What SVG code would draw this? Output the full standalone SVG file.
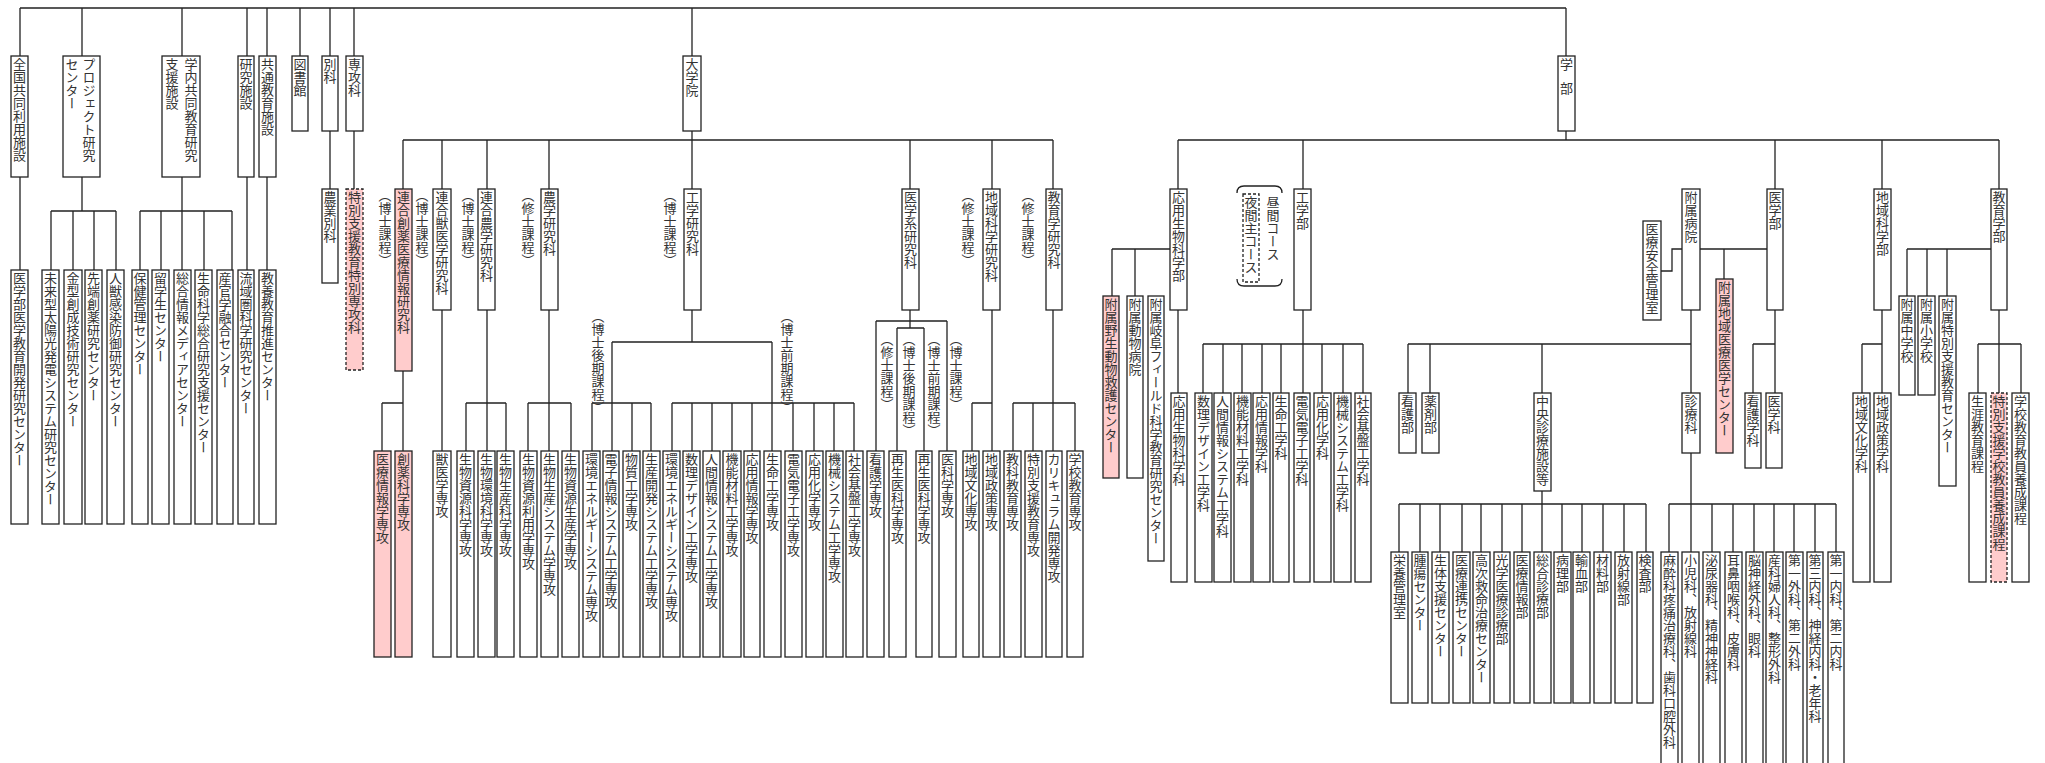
<svg xmlns="http://www.w3.org/2000/svg" width="2045" height="763" viewBox="0 0 2045 763">
<style>
.b{fill:#fff;stroke:#222;stroke-width:1.3}
.p{fill:#ffcccc}
.d{stroke-dasharray:3 2}
.t{font-family:"Noto Sans CJK JP","Noto Sans CJK SC",sans-serif;font-size:13px;fill:#333;writing-mode:vertical-rl;dominant-baseline:central}
.c{fill:none;stroke:#222;stroke-width:1.3}
</style>
<rect width="2045" height="763" fill="#fff"/>
<g id="connectors" class="c">
<path d="M20,8H1566M20,8V56M82,8V56M182,8V56M247,8V56M267,8V56M300,8V56M330,8V56M354,8V56M692,8V56M1566,8V56"/>
<path d="M20,177V270M82,177V211M51,211H116M51,211V270M73,211V270M94,211V270M116,211V270"/>
<path d="M182,177V211M140,211H232M140,211V270M161,211V270M182,211V270M204,211V270M232,211V270"/>
<path d="M247,177V270M267,177V270M330,131V189M354,131V189"/>
<path d="M692,131V189M403,140H1053M403,140V189M442,140V189M487,140V189M549,140V189M910,140V189M992,140V189M1053,140V189"/>
<path d="M403,371V451M382,403H403M382,403V451"/>
<path d="M442,310V451"/>
<path d="M487,310V451M466,403H506M466,403V451M506,403V451"/>
<path d="M549,310V451M528,403H571M528,403V451M571,403V451"/>
<path d="M692,310V342M612,342H772M612,342V451M772,342V451M592,403H651M592,403V451M632,403V451M651,403V451"/>
<path d="M672,403H854M672,403V451M692,403V451M712,403V451M732,403V451M752,403V451M793,403V451M814,403V451M834,403V451M854,403V451"/>
<path d="M910,310V328M876,321H947M897,328H924M876,321V451M897,328V451M924,328V451M947,321V451"/>
<path d="M992,310V451M972,403H992M972,403V451"/>
<path d="M1053,310V451M1013,403H1075M1013,403V451M1033,403V451M1075,403V451"/>
<path d="M1566,131V140M1178,140H1999M1178,140V189M1303,140V189M1775,140V189M1882,140V189M1999,140V189"/>
<path d="M1178,310V393M1112,249H1170M1112,249V296M1135,249V296"/>
<path d="M1303,310V344M1203,344H1363M1203,344V393M1223,344V393M1242,344V393M1262,344V393M1281,344V393M1303,344V393M1322,344V393M1343,344V393M1363,344V393"/>
<path d="M1682,249H1672V271H1661M1700,249H1767M1724,249V279"/>
<path d="M1691,310V344M1408,344H1691M1408,344V393M1430,344V393M1542,344V393M1691,344V393"/>
<path d="M1542,491V504M1399,504H1646M1399,504V552M1420,504V552M1440,504V552M1462,504V552M1481,504V552M1502,504V552M1522,504V552M1542,504V552M1562,504V552M1582,504V552M1603,504V552M1624,504V552M1646,504V552"/>
<path d="M1691,453V504M1669,504H1836M1669,504V552M1691,504V552M1712,504V552M1733,504V552M1754,504V552M1774,504V552M1794,504V552M1815,504V552M1836,504V552"/>
<path d="M1775,310V344M1753,344H1775M1753,344V393M1775,344V393"/>
<path d="M1882,310V344M1862,344H1882M1862,344V393M1882,344V393"/>
<path d="M1907,249H1991M1907,249V296M1927,249V296M1947,249V296"/>
<path d="M1999,310V344M1978,344H2021M1978,344V393M1999,344V393M2021,344V393"/>
</g>
<!-- top level -->
<g id="n-zenkoku"><rect class="b" x="11" y="56" width="17" height="121"/><text class="t" x="19.5" y="58">全国共同利用施設</text></g>
<g id="n-project"><rect class="b" x="63" y="56" width="37" height="121"/><text class="t" x="89" y="58">プロジェクト研究</text><text class="t" x="72" y="58">センター</text></g>
<g id="n-gakunai"><rect class="b" x="162" y="56" width="38" height="121"/><text class="t" x="191" y="58">学内共同教育研究</text><text class="t" x="172" y="58">支援施設</text></g>
<g id="n-kenkyushisetsu"><rect class="b" x="238" y="56" width="16" height="121"/><text class="t" x="246" y="58">研究施設</text></g>
<g id="n-kyotsu"><rect class="b" x="259" y="56" width="17" height="121"/><text class="t" x="267.5" y="58">共通教育施設</text></g>
<g id="n-tosho"><rect class="b" x="292" y="56" width="16" height="75"/><text class="t" x="300" y="58">図書館</text></g>
<g id="n-betsuka"><rect class="b" x="322" y="56" width="16" height="75"/><text class="t" x="330" y="58">別科</text></g>
<g id="n-senkoka"><rect class="b" x="346" y="56" width="17" height="75"/><text class="t" x="354.5" y="58">専攻科</text></g>
<g id="n-daigakuin"><rect class="b" x="683" y="56" width="18" height="75"/><text class="t" x="692" y="58">大学院</text></g>
<g id="n-gakubu"><rect class="b" x="1558" y="56" width="17" height="75"/><text class="t" x="1566.5" y="58">学</text><text class="t" x="1566.5" y="82">部</text></g>
<!-- second row under top level -->
<g id="n-igakukyoiku"><rect class="b" x="11" y="270" width="17" height="254"/><text class="t" x="19.5" y="272">医学部医学教育開発研究センター</text></g>
<g id="n-mirai"><rect class="b" x="42" y="270" width="17" height="254"/><text class="t" x="50.5" y="272">未来型太陽光発電システム研究センター</text></g>
<g id="n-kanagata"><rect class="b" x="64" y="270" width="18" height="254"/><text class="t" x="73" y="272">金型創成技術研究センター</text></g>
<g id="n-sentan"><rect class="b" x="85" y="270" width="17" height="254"/><text class="t" x="93.5" y="272">先端創薬研究センター</text></g>
<g id="n-jinju"><rect class="b" x="107" y="270" width="17" height="254"/><text class="t" x="115.5" y="272">人獣感染防御研究センター</text></g>
<g id="n-hoken"><rect class="b" x="132" y="270" width="16" height="254"/><text class="t" x="140" y="272">保健管理センター</text></g>
<g id="n-ryugaku"><rect class="b" x="152" y="270" width="17" height="254"/><text class="t" x="160.5" y="272">留学生センター</text></g>
<g id="n-sogojoho"><rect class="b" x="174" y="270" width="17" height="254"/><text class="t" x="182.5" y="272">総合情報メディアセンター</text></g>
<g id="n-seimei"><rect class="b" x="195" y="270" width="17" height="254"/><text class="t" x="203.5" y="272">生命科学総合研究支援センター</text></g>
<g id="n-sankan"><rect class="b" x="217" y="270" width="16" height="254"/><text class="t" x="225" y="272">産官学融合センター</text></g>
<g id="n-ryuiki"><rect class="b" x="238" y="270" width="16" height="254"/><text class="t" x="246" y="272">流域圏科学研究センター</text></g>
<g id="n-kyoyo"><rect class="b" x="259" y="270" width="17" height="254"/><text class="t" x="267.5" y="272">教養教育推進センター</text></g>
<g id="n-nogyobetsuka"><rect class="b" x="322" y="189" width="16" height="94"/><text class="t" x="330" y="191">農業別科</text></g>
<g id="n-tokubetsusenkoka"><rect class="b p d" x="346" y="189" width="17" height="181"/><text class="t" x="354.5" y="191">特別支援教育特別専攻科</text></g>
<!-- graduate schools -->
<g id="n-rengosoyaku"><rect class="b p" x="395" y="189" width="17" height="182"/><text class="t" x="403.5" y="191">連合創薬医療情報研究科</text></g>
<g id="n-rengojui"><rect class="b" x="433" y="189" width="18" height="121"/><text class="t" x="442" y="191">連合獣医学研究科</text></g>
<g id="n-rengono"><rect class="b" x="478" y="189" width="17" height="121"/><text class="t" x="486.5" y="191">連合農学研究科</text></g>
<g id="n-nogaku"><rect class="b" x="541" y="189" width="17" height="121"/><text class="t" x="549.5" y="191">農学研究科</text></g>
<g id="n-kogaku"><rect class="b" x="684" y="189" width="17" height="121"/><text class="t" x="692.5" y="191">工学研究科</text></g>
<g id="n-igakukei"><rect class="b" x="902" y="189" width="17" height="121"/><text class="t" x="910.5" y="191">医学系研究科</text></g>
<g id="n-chiikikagaku"><rect class="b" x="983" y="189" width="17" height="121"/><text class="t" x="991.5" y="191">地域科学研究科</text></g>
<g id="n-kyoikugaku"><rect class="b" x="1046" y="189" width="16" height="121"/><text class="t" x="1054" y="191">教育学研究科</text></g>
<g id="labels">
<text class="t" x="385" y="189">（博士課程）</text>
<text class="t" x="422" y="189">（博士課程）</text>
<text class="t" x="468" y="189">（博士課程）</text>
<text class="t" x="528" y="189">（修士課程）</text>
<text class="t" x="670" y="189">（博士課程）</text>
<text class="t" x="968" y="189">（修士課程）</text>
<text class="t" x="1028" y="189">（修士課程）</text>
<text class="t" x="598" y="310">（博士後期課程）</text>
<text class="t" x="787" y="310">（博士前期課程）</text>
<text class="t" x="887" y="333">（修士課程）</text>
<text class="t" x="909" y="333">（博士後期課程）</text>
<text class="t" x="934" y="333">（博士前期課程）</text>
<text class="t" x="956" y="333">（博士課程）</text>
</g>
<!-- majors -->
<g id="m01"><rect class="b p" x="374" y="451" width="17" height="206"/><text class="t" x="382.5" y="453">医療情報学専攻</text></g>
<g id="m02"><rect class="b p" x="395" y="451" width="17" height="206"/><text class="t" x="403.5" y="453">創薬科学専攻</text></g>
<g id="m03"><rect class="b" x="433" y="451" width="18" height="206"/><text class="t" x="442" y="453">獣医学専攻</text></g>
<g id="m04"><rect class="b" x="457" y="451" width="17" height="206"/><text class="t" x="465.5" y="453">生物資源科学専攻</text></g>
<g id="m05"><rect class="b" x="478" y="451" width="17" height="206"/><text class="t" x="486.5" y="453">生物環境科学専攻</text></g>
<g id="m06"><rect class="b" x="497" y="451" width="17" height="206"/><text class="t" x="505.5" y="453">生物生産科学専攻</text></g>
<g id="m07"><rect class="b" x="520" y="451" width="17" height="206"/><text class="t" x="528.5" y="453">生物資源利用学専攻</text></g>
<g id="m08"><rect class="b" x="541" y="451" width="17" height="206"/><text class="t" x="549.5" y="453">生物生産システム学専攻</text></g>
<g id="m09"><rect class="b" x="562" y="451" width="17" height="206"/><text class="t" x="570.5" y="453">生物資源生産学専攻</text></g>
<g id="m10"><rect class="b" x="583" y="451" width="17" height="206"/><text class="t" x="591.5" y="453">環境エネルギーシステム専攻</text></g>
<g id="m11"><rect class="b" x="603" y="451" width="16" height="206"/><text class="t" x="611" y="453">電子情報システム工学専攻</text></g>
<g id="m12"><rect class="b" x="623" y="451" width="17" height="206"/><text class="t" x="631.5" y="453">物質工学専攻</text></g>
<g id="m13"><rect class="b" x="643" y="451" width="17" height="206"/><text class="t" x="651.5" y="453">生産開発システム工学専攻</text></g>
<g id="m14"><rect class="b" x="663" y="451" width="17" height="206"/><text class="t" x="671.5" y="453">環境エネルギーシステム専攻</text></g>
<g id="m15"><rect class="b" x="683" y="451" width="17" height="206"/><text class="t" x="691.5" y="453">数理デザイン工学専攻</text></g>
<g id="m16"><rect class="b" x="703" y="451" width="17" height="206"/><text class="t" x="711.5" y="453">人間情報システム工学専攻</text></g>
<g id="m17"><rect class="b" x="723" y="451" width="18" height="206"/><text class="t" x="732" y="453">機能材料工学専攻</text></g>
<g id="m18"><rect class="b" x="744" y="451" width="16" height="206"/><text class="t" x="752" y="453">応用情報学専攻</text></g>
<g id="m19"><rect class="b" x="764" y="451" width="17" height="206"/><text class="t" x="772.5" y="453">生命工学専攻</text></g>
<g id="m20"><rect class="b" x="785" y="451" width="17" height="206"/><text class="t" x="793.5" y="453">電気電子工学専攻</text></g>
<g id="m21"><rect class="b" x="806" y="451" width="17" height="206"/><text class="t" x="814.5" y="453">応用化学専攻</text></g>
<g id="m22"><rect class="b" x="826" y="451" width="17" height="206"/><text class="t" x="834.5" y="453">機械システム工学専攻</text></g>
<g id="m23"><rect class="b" x="846" y="451" width="17" height="206"/><text class="t" x="854.5" y="453">社会基盤工学専攻</text></g>
<g id="m24"><rect class="b" x="867" y="451" width="17" height="206"/><text class="t" x="875.5" y="453">看護学専攻</text></g>
<g id="m25"><rect class="b" x="889" y="451" width="17" height="206"/><text class="t" x="897.5" y="453">再生医科学専攻</text></g>
<g id="m26"><rect class="b" x="916" y="451" width="16" height="206"/><text class="t" x="924" y="453">再生医科学専攻</text></g>
<g id="m27"><rect class="b" x="939" y="451" width="17" height="206"/><text class="t" x="947.5" y="453">医科学専攻</text></g>
<g id="m28"><rect class="b" x="963" y="451" width="16" height="206"/><text class="t" x="971" y="453">地域文化専攻</text></g>
<g id="m29"><rect class="b" x="983" y="451" width="17" height="206"/><text class="t" x="991.5" y="453">地域政策専攻</text></g>
<g id="m30"><rect class="b" x="1004" y="451" width="17" height="206"/><text class="t" x="1012.5" y="453">教科教育専攻</text></g>
<g id="m31"><rect class="b" x="1025" y="451" width="17" height="206"/><text class="t" x="1033.5" y="453">特別支援教育専攻</text></g>
<g id="m32"><rect class="b" x="1046" y="451" width="16" height="206"/><text class="t" x="1054" y="453">カリキュラム開発専攻</text></g>
<g id="m33"><rect class="b" x="1067" y="451" width="16" height="206"/><text class="t" x="1075" y="453">学校教育専攻</text></g>
<!-- faculties -->
<g id="f-oyoseibutsu"><rect class="b" x="1170" y="189" width="17" height="121"/><text class="t" x="1178.5" y="191">応用生物科学部</text></g>
<g id="course-note"><path class="c" d="M1237,193Q1237,186 1244,186H1275Q1282,186 1282,193M1237,279Q1237,286 1244,286H1275Q1282,286 1282,279"/><rect class="b d" x="1243" y="194" width="16" height="88" fill="none"/><text class="t" x="1251" y="196">夜間主コース</text><text class="t" x="1273" y="196">昼間コース</text></g>
<g id="f-kogaku"><rect class="b" x="1294" y="189" width="17" height="121"/><text class="t" x="1302.5" y="191">工学部</text></g>
<g id="f-iryoanzen"><rect class="b" x="1643" y="221" width="18" height="99"/><text class="t" x="1652" y="223">医療安全管理室</text></g>
<g id="f-byoin"><rect class="b" x="1682" y="189" width="18" height="121"/><text class="t" x="1691" y="191">附属病院</text></g>
<g id="f-igaku"><rect class="b" x="1767" y="189" width="16" height="121"/><text class="t" x="1775" y="191">医学部</text></g>
<g id="f-chiiki"><rect class="b" x="1874" y="189" width="17" height="121"/><text class="t" x="1882.5" y="191">地域科学部</text></g>
<g id="f-kyoiku"><rect class="b" x="1991" y="189" width="16" height="121"/><text class="t" x="1999" y="191">教育学部</text></g>
<!-- attached -->
<g id="a-yasei"><rect class="b p" x="1103" y="296" width="16" height="182"/><text class="t" x="1111" y="298">附属野生動物救護センター</text></g>
<g id="a-dobutsubyoin"><rect class="b" x="1127" y="296" width="16" height="182"/><text class="t" x="1135" y="298">附属動物病院</text></g>
<g id="a-gifufield"><rect class="b" x="1148" y="296" width="16" height="265"/><text class="t" x="1156" y="298">附属岐阜フィールド科学教育研究センター</text></g>
<g id="a-chiikiiryo"><rect class="b p" x="1716" y="279" width="17" height="174"/><text class="t" x="1724.5" y="281">附属地域医療医学センター</text></g>
<g id="a-chugaku"><rect class="b" x="1899" y="296" width="16" height="99"/><text class="t" x="1907" y="298">附属中学校</text></g>
<g id="a-shogaku"><rect class="b" x="1918" y="296" width="17" height="99"/><text class="t" x="1926.5" y="298">附属小学校</text></g>
<g id="a-tokubetsu"><rect class="b" x="1939" y="296" width="17" height="190"/><text class="t" x="1947.5" y="298">附属特別支援教育センター</text></g>
<!-- departments -->
<g id="d01"><rect class="b" x="1171" y="393" width="16" height="189"/><text class="t" x="1179" y="395">応用生物科学科</text></g>
<g id="d02"><rect class="b" x="1195" y="393" width="17" height="189"/><text class="t" x="1203.5" y="395">数理デザイン工学科</text></g>
<g id="d03"><rect class="b" x="1214" y="393" width="17" height="189"/><text class="t" x="1222.5" y="395">人間情報システム工学科</text></g>
<g id="d04"><rect class="b" x="1234" y="393" width="17" height="189"/><text class="t" x="1242.5" y="395">機能材料工学科</text></g>
<g id="d05"><rect class="b" x="1253" y="393" width="17" height="189"/><text class="t" x="1261.5" y="395">応用情報学科</text></g>
<g id="d06"><rect class="b" x="1273" y="393" width="16" height="189"/><text class="t" x="1281" y="395">生命工学科</text></g>
<g id="d07"><rect class="b" x="1294" y="393" width="16" height="189"/><text class="t" x="1302" y="395">電気電子工学科</text></g>
<g id="d08"><rect class="b" x="1314" y="393" width="17" height="189"/><text class="t" x="1322.5" y="395">応用化学科</text></g>
<g id="d09"><rect class="b" x="1334" y="393" width="17" height="189"/><text class="t" x="1342.5" y="395">機械システム工学科</text></g>
<g id="d10"><rect class="b" x="1355" y="393" width="16" height="189"/><text class="t" x="1363" y="395">社会基盤工学科</text></g>
<g id="d11"><rect class="b" x="1745" y="393" width="16" height="75"/><text class="t" x="1753" y="395">看護学科</text></g>
<g id="d12"><rect class="b" x="1766" y="393" width="16" height="75"/><text class="t" x="1774" y="395">医学科</text></g>
<g id="d13"><rect class="b" x="1853" y="393" width="17" height="189"/><text class="t" x="1861.5" y="395">地域文化学科</text></g>
<g id="d14"><rect class="b" x="1874" y="393" width="17" height="189"/><text class="t" x="1882.5" y="395">地域政策学科</text></g>
<g id="d15"><rect class="b" x="1969" y="393" width="17" height="189"/><text class="t" x="1977.5" y="395">生涯教育課程</text></g>
<g id="d16"><rect class="b p d" x="1991" y="393" width="16" height="189"/><text class="t" x="1999" y="395">特別支援学校教員養成課程</text></g>
<g id="d17"><rect class="b" x="2012" y="393" width="17" height="189"/><text class="t" x="2020.5" y="395">学校教育教員養成課程</text></g>
<!-- hospital -->
<g id="h-kango"><rect class="b" x="1399" y="393" width="17" height="60"/><text class="t" x="1407.5" y="395">看護部</text></g>
<g id="h-yakuzai"><rect class="b" x="1422" y="393" width="17" height="60"/><text class="t" x="1430.5" y="395">薬剤部</text></g>
<g id="h-chuo"><rect class="b" x="1534" y="393" width="17" height="98"/><text class="t" x="1542.5" y="395">中央診療施設等</text></g>
<g id="h-shinryoka"><rect class="b" x="1682" y="393" width="18" height="60"/><text class="t" x="1691" y="395">診療科</text></g>
<g id="c01"><rect class="b" x="1391" y="552" width="17" height="151"/><text class="t" x="1399.5" y="554">栄養管理室</text></g>
<g id="c02"><rect class="b" x="1412" y="552" width="16" height="151"/><text class="t" x="1420" y="554">腫瘍センター</text></g>
<g id="c03"><rect class="b" x="1432" y="552" width="17" height="151"/><text class="t" x="1440.5" y="554">生体支援センター</text></g>
<g id="c04"><rect class="b" x="1453" y="552" width="17" height="151"/><text class="t" x="1461.5" y="554">医療連携センター</text></g>
<g id="c05"><rect class="b" x="1473" y="552" width="17" height="151"/><text class="t" x="1481.5" y="554">高次救命治療センター</text></g>
<g id="c06"><rect class="b" x="1494" y="552" width="16" height="151"/><text class="t" x="1502" y="554">光学医療診療部</text></g>
<g id="c07"><rect class="b" x="1514" y="552" width="16" height="151"/><text class="t" x="1522" y="554">医療情報部</text></g>
<g id="c08"><rect class="b" x="1534" y="552" width="17" height="151"/><text class="t" x="1542.5" y="554">総合診療部</text></g>
<g id="c09"><rect class="b" x="1554" y="552" width="17" height="151"/><text class="t" x="1562.5" y="554">病理部</text></g>
<g id="c10"><rect class="b" x="1573" y="552" width="17" height="151"/><text class="t" x="1581.5" y="554">輸血部</text></g>
<g id="c11"><rect class="b" x="1594" y="552" width="17" height="151"/><text class="t" x="1602.5" y="554">材料部</text></g>
<g id="c12"><rect class="b" x="1615" y="552" width="17" height="151"/><text class="t" x="1623.5" y="554">放射線部</text></g>
<g id="c13"><rect class="b" x="1637" y="552" width="16" height="151"/><text class="t" x="1645" y="554">検査部</text></g>
<g id="k01"><rect class="b" x="1661" y="552" width="17" height="220"/><text class="t" x="1669.5" y="554">麻酔科疼痛治療科、歯科口腔外科</text></g>
<g id="k02"><rect class="b" x="1682" y="552" width="17" height="220"/><text class="t" x="1690.5" y="554">小児科、放射線科</text></g>
<g id="k03"><rect class="b" x="1703" y="552" width="17" height="220"/><text class="t" x="1711.5" y="554">泌尿器科、精神神経科</text></g>
<g id="k04"><rect class="b" x="1725" y="552" width="17" height="220"/><text class="t" x="1733.5" y="554">耳鼻咽喉科、皮膚科</text></g>
<g id="k05"><rect class="b" x="1746" y="552" width="17" height="220"/><text class="t" x="1754.5" y="554">脳神経外科、眼科</text></g>
<g id="k06"><rect class="b" x="1766" y="552" width="17" height="220"/><text class="t" x="1774.5" y="554">産科婦人科、整形外科</text></g>
<g id="k07"><rect class="b" x="1786" y="552" width="17" height="220"/><text class="t" x="1794.5" y="554">第一外科、第二外科</text></g>
<g id="k08"><rect class="b" x="1807" y="552" width="16" height="220"/><text class="t" x="1815" y="554">第三内科、神経内科・老年科</text></g>
<g id="k09"><rect class="b" x="1828" y="552" width="16" height="220"/><text class="t" x="1836" y="554">第一内科、第二内科</text></g>
</svg>
